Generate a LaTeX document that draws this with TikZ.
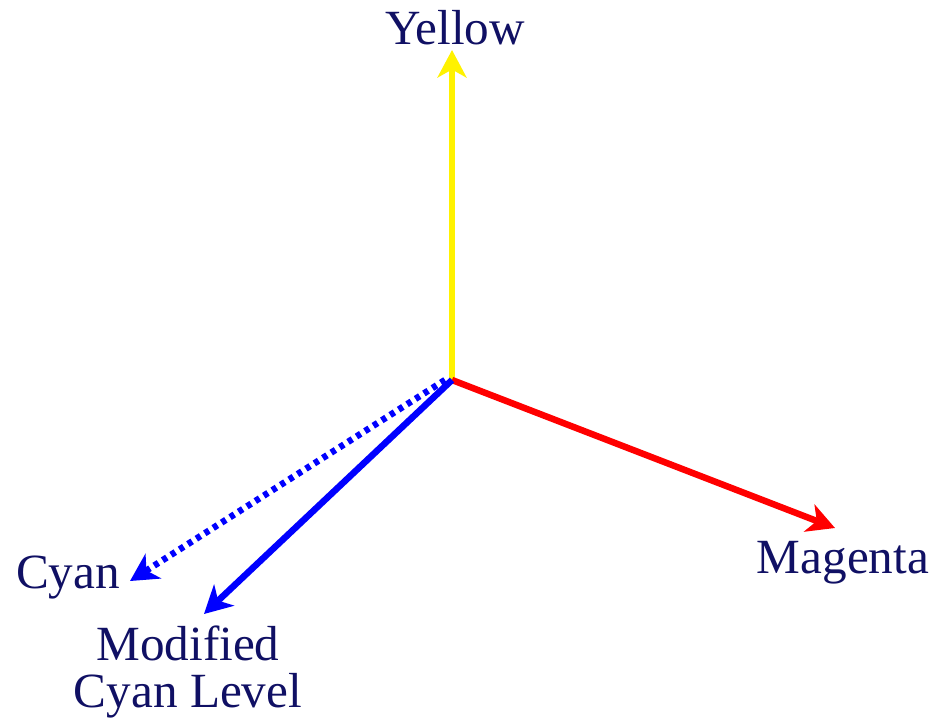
\documentclass[tikz,border=0pt]{standalone}
\usepackage{fontspec}
\setmainfont{Liberation Serif}
\usetikzlibrary{arrows.meta}
\definecolor{navytext}{RGB}{16,16,100}
\begin{document}
\begin{tikzpicture}[
    x=0.02cm, y=-0.02cm,
    >={Stealth[length=0.55cm,width=0.58cm,inset=0.16cm]},
    axis/.style={->, line width=0.13cm},
    label/.style={text=navytext, font=\fontsize{28}{27}\selectfont, align=center, inner sep=0pt}
]
  \useasboundingbox (0,0) rectangle (936,718);

  \coordinate (o) at (452,380);
  \coordinate (yt) at (452,50);
  \coordinate (mt) at (835,528);
  \coordinate (ct) at (130,581);
  \coordinate (mct) at (204,614);

  \draw[axis, draw=yellow] (o) -- (yt);
  \draw[axis, draw=red] (o) -- (mt);
  \draw[axis, draw=blue, dash pattern=on 0.1cm off 0.1cm] ([xshift=-0.14cm]o) -- (ct);
  \draw[axis, draw=blue] (o) -- (mct);

  % Labels
  \node[label] (yl) at (455,28) {Yellow};
  \node[label] (ml) at (843,563) {Magenta};
  \node[label] (cl) at (68,578) {Cyan};
  \node[label] (mcl) at (188,672) {Modified\\Cyan Level};
\end{tikzpicture}
\end{document}
